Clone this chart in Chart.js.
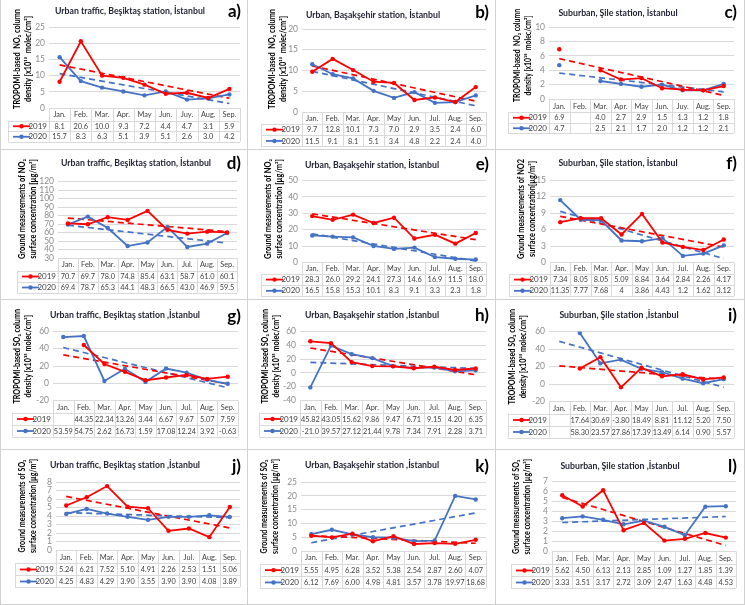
<!DOCTYPE html>
<html>
<head>
<meta charset="utf-8">
<script src="https://cdn.jsdelivr.net/npm/chart.js@4.4.1/dist/chart.umd.min.js"></script>
<style>
body { margin: 0; background: #fff; }
#wrap { position: relative; width: 745px; height: 605px; overflow: hidden; }
canvas { position: absolute; }
</style>
</head>
<body>
<div id="wrap"></div>
<script>
'use strict';

// month labels (two panels have the "Juy." typo)
var monthsJuy = ['Jan.', 'Feb.', 'Mar.', 'Apr.', 'May', 'Jun.', 'Juy.', 'Aug.', 'Sep.'];
var monthsJul = ['Jan.', 'Feb.', 'Mar.', 'Apr.', 'May', 'Jun.', 'Jul.', 'Aug.', 'Sep.'];

// y tick values per panel
var ticksA = [0, 5, 10, 15, 20, 25];
var ticksB = [0, 5, 10, 15, 20];
var ticksC = [0, 2, 4, 6, 8, 10];
var ticksD = [30, 40, 50, 60, 70, 80, 90, 100, 110, 120];
var ticksE = [0, 10, 20, 30, 40, 50];
var ticksF = [0, 3, 6, 9, 12, 15];
var ticksG = [-20, 0, 20, 40, 60];
var ticksH = [-40, -20, 0, 20, 40, 60];
var ticksI = [-20, 0, 20, 40, 60];
var ticksJ = [0, 1, 2, 3, 4, 5, 6, 7, 8];
var ticksK = [0, 5, 10, 15, 20, 25];
var ticksL = [0, 1, 2, 3, 4, 5, 6, 7];

// series values (2019 / 2020), null = no value
var a2019 = [8.1, 20.6, 10.0, 9.3, 7.2, 4.4, 4.7, 3.1, 5.9];
var a2020 = [15.7, 8.3, 6.3, 5.1, 3.9, 5.1, 2.6, 3.0, 4.2];
var b2019 = [9.7, 12.8, 10.1, 7.3, 7.0, 2.9, 3.5, 2.4, 6.0];
var b2020 = [11.5, 9.1, 8.1, 5.1, 3.4, 4.8, 2.2, 2.4, 4.0];
var c2019 = [6.9, null, 4.0, 2.7, 2.9, 1.5, 1.3, 1.2, 1.8];
var c2020 = [4.7, null, 2.5, 2.1, 1.7, 2.0, 1.2, 1.2, 2.1];
var d2019 = [70.7, 69.7, 78.0, 74.8, 85.4, 63.1, 58.7, 61.0, 60.1];
var d2020 = [69.4, 78.7, 65.3, 44.1, 48.3, 66.5, 43.0, 46.9, 59.5];
var e2019 = [28.3, 26.0, 29.2, 24.1, 27.3, 14.6, 16.9, 11.5, 18.0];
var e2020 = [16.5, 15.8, 15.3, 10.1, 8.3, 9.1, 3.3, 2.3, 1.8];
var f2019 = [7.34, 8.05, 8.05, 5.09, 8.84, 3.64, 2.84, 2.26, 4.17];
var f2020 = [11.35, 7.77, 7.68, 4, 3.86, 4.43, 1.2, 1.62, 3.12];
var g2019 = [null, 44.35, 22.34, 13.26, 3.44, 6.67, 9.67, 5.07, 7.59];
var g2020 = [53.59, 54.75, 2.62, 16.73, 1.59, 17.08, 12.24, 3.92, -0.63];
var h2019 = [45.82, 43.05, 15.62, 9.86, 9.47, 6.71, 9.15, 4.20, 6.35];
var h2020 = [-21.0, 39.57, 27.12, 21.44, 9.78, 7.34, 7.91, 2.28, 3.71];
var i2019 = [null, 17.64, 30.69, -3.80, 18.49, 8.81, 11.12, 5.20, 7.50];
var i2020 = [null, 58.30, 23.57, 27.86, 17.39, 13.49, 6.14, 0.90, 5.57];
var j2019 = [5.24, 6.21, 7.52, 5.10, 4.91, 2.26, 2.53, 1.51, 5.06];
var j2020 = [4.25, 4.83, 4.29, 3.90, 3.55, 3.90, 3.90, 4.08, 3.89];
var k2019 = [5.55, 4.95, 6.28, 3.52, 5.38, 2.54, 2.87, 2.60, 4.07];
var k2020 = [6.12, 7.69, 6.00, 4.98, 4.81, 3.57, 3.78, 19.97, 18.68];
var l2019 = [5.62, 4.50, 6.13, 2.13, 2.85, 1.09, 1.27, 1.85, 1.39];
var l2020 = [3.33, 3.51, 3.17, 2.72, 3.09, 2.47, 1.63, 4.48, 4.53];

// dashed trend lines, value at Jan and at Sep
var aTrend2019 = [13.3, 3.0],  aTrend2020 = [10.6, 1.4];
var bTrend2019 = [11.1, 2.6],  bTrend2020 = [9.8, 1.5];
var cTrend2019 = [5.6, 0.5],   cTrend2020 = [3.6, 1.0];
var dTrend2019 = [77.0, 61.1], dTrend2020 = [68.5, 47.5];
var eTrend2019 = [29.7, 13.9], eTrend2020 = [17.5, 0.9];
var fTrend2019 = [8.4, 2.8],   fTrend2020 = [9.3, 0.7];
var gTrend2019 = [32.9, -0.6], gTrend2020 = [41.4, -5.2];
var hTrend2019 = [36.1, -2.7], hTrend2020 = [15.3, 6.5];
var iTrend2019 = [20.7, 5.2],  iTrend2020 = [48.7, -3.8];
var jTrend2019 = [6.3, 2.6],   jTrend2020 = [4.4, 3.8];
var kTrend2019 = [5.6, 2.8],   kTrend2020 = [3.0, 13.8];
var lTrend2019 = [5.4, 0.6],   lTrend2020 = [2.9, 3.5];

var RED = '#ff0000';
var BLUE = '#4472c4';
var GRID = '#d9d9d9';
var FONT = 'Lato, "Liberation Sans", sans-serif';

var tropNO2 = ['TROPOMI-based  NO\u2082 column', 'density [x10\u00b9\u2075  molec/cm\u00b2]'];
var groundNO2 = ['Ground measurements of NO\u2082', 'surface concentration [\u00b5g/m\u00b3]'];
var groundNO2f = ['Ground measurements of NO2', 'surface concentration[\u00b5g/m\u00b3]'];
var tropSO2 = ['TROPOMI-based SO\u2082 column', 'density [x10\u00b9\u2075 molec/cm\u00b2]'];
var groundSO2 = ['Ground measurements of SO\u2082', 'surface concentration [\u00b5g/m\u00b3]'];

var panels = [
 {letter: 'a)', title: 'Urban traffic, Be\u015fikta\u015f station, \u0130stanbul', ytitle: tropNO2, ticks: ticksA, months: monthsJuy, s19: a2019, s20: a2020, t19: aTrend2019, t20: aTrend2020, dec: [1, 1],
  g: {top: 27, bottom: 108, left: 49, right: 240, hh: 12.5, rh: 10.5, yt: 17, tx: 130, ty: 11, ly: 12}},
 {letter: 'b)', title: 'Urban, Ba\u015fak\u015fehir station, \u0130stanbul', ytitle: tropNO2, ticks: ticksB, months: monthsJul, s19: b2019, s20: b2020, t19: bTrend2019, t20: bTrend2020, dec: [1, 1],
  g: {top: 29, bottom: 112, left: 54, right: 238, hh: 11.5, rh: 11.3, yt: 24, tx: 125, ty: 15, ly: 13}},
 {letter: 'c)', title: 'Suburban, \u015eile station, \u0130stanbul', ytitle: tropNO2, ticks: ticksC, months: monthsJuy, s19: c2019, s20: c2020, t19: cTrend2019, t20: cTrend2020, dec: [1, 1],
  g: {top: 27, bottom: 99, left: 53, right: 238, hh: 13, rh: 10.5, yt: 21, tx: 122, ty: 13, ly: 13}},
 {letter: 'd)', title: 'Urban traffic, Be\u015fikta\u015f station, \u0130stanbul', ytitle: groundNO2, ticks: ticksD, months: monthsJul, s19: d2019, s20: d2020, t19: dTrend2019, t20: dTrend2020, dec: [1, 1],
  g: {top: 31.5, bottom: 108, left: 58, right: 237, hh: 12.5, rh: 11, yt: 22, tx: 136, ty: 13, ly: 14}},
 {letter: 'e)', title: 'Urban, Ba\u015fak\u015fehir station, \u0130stanbul', ytitle: groundNO2, ticks: ticksE, months: monthsJul, s19: e2019, s20: e2020, t19: eTrend2019, t20: eTrend2020, dec: [1, 1],
  g: {top: 30.5, bottom: 112.5, left: 54, right: 238, hh: 11, rh: 11.2, yt: 20, tx: 124, ty: 15, ly: 15}},
 {letter: 'f)', title: 'Suburban, \u015eile station, \u0130stanbul', ytitle: groundNO2f, ticks: ticksF, months: monthsJul, s19: f2019, s20: f2020, t19: fTrend2019, t20: fTrend2020, dec: [2, null],
  g: {top: 30, bottom: 112.5, left: 54, right: 238, hh: 11, rh: 11.2, yt: 25, tx: 122, ty: 13, ly: 14}},
 {letter: 'g)', title: 'Urban traffic, Be\u015fikta\u015f station ,\u0130stanbul', ytitle: tropSO2, ticks: ticksG, months: monthsJul, s19: g2019, s20: g2020, t19: gTrend2019, t20: gTrend2020, dec: [2, 2],
  g: {top: 31.5, bottom: 100.5, left: 53, right: 238, hh: 12, rh: 12, yt: 17, tx: 125, ty: 15, ly: 17}},
 {letter: 'h)', title: 'Urban, Ba\u015fak\u015fehir station ,\u0130stanbul', ytitle: tropSO2, ticks: ticksH, months: monthsJul, s19: h2019, s20: h2020, t19: hTrend2019, t20: hTrend2020, dec: [2, [1, 2, 2, 2, 2, 2, 2, 2, 2]],
  g: {top: 31.5, bottom: 100.5, left: 52, right: 238, hh: 12, rh: 12, yt: 17, tx: 124, ty: 15, ly: 16}},
 {letter: 'i)', title: 'Suburban, \u015eile station ,\u0130stanbul', ytitle: tropSO2, ticks: ticksI, months: monthsJul, s19: i2019, s20: i2020, t19: iTrend2019, t20: iTrend2020, dec: [2, 2],
  g: {top: 31.5, bottom: 101.5, left: 53, right: 238, hh: 12, rh: 12, yt: 16, tx: 123, ty: 15, ly: 16}},
 {letter: 'j)', title: 'Urban traffic, Be\u015fikta\u015f station ,\u0130stanbul', ytitle: groundSO2, ticks: ticksJ, months: monthsJul, s19: j2019, s20: j2020, t19: jTrend2019, t20: jTrend2020, dec: [2, 2],
  g: {top: 32, bottom: 100, left: 56, right: 240, hh: 13, rh: 12, yt: 22, tx: 125, ty: 15, ly: 17}},
 {letter: 'k)', title: 'Urban, Ba\u015fak\u015fehir station ,\u0130stanbul', ytitle: groundSO2, ticks: ticksK, months: monthsJul, s19: k2019, s20: k2020, t19: kTrend2019, t20: kTrend2020, dec: [2, 2],
  g: {top: 32, bottom: 101, left: 53, right: 238, hh: 12.5, rh: 12.3, yt: 16, tx: 124, ty: 15, ly: 17}},
 {letter: 'l)', title: 'Suburban, \u015eile station ,\u0130stanbul', ytitle: groundSO2, ticks: ticksL, months: monthsJul, s19: l2019, s20: l2020, t19: lTrend2019, t20: lTrend2020, dec: [2, 2],
  g: {top: 31.5, bottom: 101.5, left: 56, right: 240, hh: 12.5, rh: 12, yt: 20, tx: 124, ty: 16, ly: 17}}
];

var colX = [0, 248, 496], colW = [248, 248, 249];
var rowY = [0, 150, 300, 450], rowH = [150, 150, 150, 155];

function fmt(v, d, i) {
 if (v === null) return '';
 var n = Array.isArray(d) ? d[i] : d;
 if (n === null) return String(v);
 return v.toFixed(n);
}

function trendData(t) {
 var out = [];
 for (var i = 0; i < 9; i++) out.push(null);
 out[0] = t[0];
 out[8] = t[1];
 return out;
}

function hline(ctx, x1, x2, y) {
 ctx.beginPath(); ctx.moveTo(x1, Math.round(y) + 0.5); ctx.lineTo(x2, Math.round(y) + 0.5); ctx.stroke();
}
function vline(ctx, x, y1, y2) {
 ctx.beginPath(); ctx.moveTo(Math.round(x) + 0.5, y1); ctx.lineTo(Math.round(x) + 0.5, y2); ctx.stroke();
}

// the figure uses a narrow font; text is drawn a bit condensed to get its widths
var TITLE_FONT = 'bold 9.5px ' + FONT;
var titleSquash = 1;
(function () {
 var c = document.createElement('canvas').getContext('2d');
 c.font = TITLE_FONT;
 titleSquash = Math.min(1, 150 / c.measureText(panels[0].title).width);
})();

function squashText(ctx, text, x, y, sx) {
 ctx.save();
 ctx.translate(x, y);
 ctx.scale(sx, 1);
 ctx.fillText(text, 0, 0);
 ctx.restore();
}

var panelPlugin = {
 id: 'panelDecor',
 afterDraw: function (chart) {
  var p = chart.options.plugins.panelDecor.p;
  var g = p.g;
  var ctx = chart.ctx;
  var W = chart.width, H = chart.height;
  var L = chart.chartArea.left, R = chart.chartArea.right, B = chart.chartArea.bottom;
  var bw = (R - L) / 9;
  var y1 = B + g.hh, y2 = y1 + g.rh, y3 = y2 + g.rh;
  var legL = L - 41;
  ctx.save();

  // table grid
  ctx.strokeStyle = GRID;
  ctx.lineWidth = 1;
  hline(ctx, legL, R, y1);
  hline(ctx, legL, R, y2);
  hline(ctx, legL, R, y3);
  vline(ctx, legL, y1, y3);
  for (var i = 0; i <= 9; i++) vline(ctx, L + i * bw, B, y3);

  // table texts
  ctx.fillStyle = '#404040';
  ctx.font = '8px ' + FONT;
  ctx.textAlign = 'center';
  ctx.textBaseline = 'middle';
  for (i = 0; i < 9; i++) {
   var cx = L + (i + 0.5) * bw;
   squashText(ctx, p.months[i], cx, B + g.hh / 2 + 0.5, 0.92);
   squashText(ctx, fmt(p.s19[i], p.dec[0], i), cx, y1 + g.rh / 2 + 0.5, 0.92);
   squashText(ctx, fmt(p.s20[i], p.dec[1], i), cx, y2 + g.rh / 2 + 0.5, 0.92);
  }

  // legend keys
  ctx.font = '8px ' + FONT;
  [[RED, '2019', y1], [BLUE, '2020', y2]].forEach(function (k) {
   var cy = k[2] + g.rh / 2 + 0.5;
   ctx.strokeStyle = k[0];
   ctx.fillStyle = k[0];
   ctx.lineWidth = 1.8;
   ctx.beginPath(); ctx.moveTo(L - 36, cy); ctx.lineTo(L - 19, cy); ctx.stroke();
   ctx.beginPath(); ctx.arc(L - 27.5, cy, 2.2, 0, Math.PI * 2); ctx.fill();
   ctx.fillStyle = '#404040';
   ctx.textAlign = 'right';
   ctx.fillText(k[1], L - 2, cy);
  });

  // title and panel letter
  ctx.fillStyle = '#1f2030';
  ctx.textAlign = 'center';
  ctx.font = TITLE_FONT;
  squashText(ctx, p.title, g.tx, g.ty, titleSquash);
  ctx.fillStyle = '#000';
  ctx.textAlign = 'right';
  ctx.font = 'bold 17px ' + FONT;
  ctx.fillText(p.letter, 241, g.ly);

  // rotated y axis title, condensed to run from near the top down to the plot bottom
  var span = Math.min(100, B - 6);
  ctx.font = 'bold 8.5px ' + FONT;
  var longest = Math.max(ctx.measureText(p.ytitle[0]).width, ctx.measureText(p.ytitle[1]).width);
  var sx = Math.min(1, span / longest);
  ctx.save();
  ctx.translate(g.yt, 9 + span / 2);
  ctx.rotate(-Math.PI / 2);
  ctx.scale(sx, 1);
  ctx.fillStyle = '#000';
  ctx.textAlign = 'center';
  ctx.fillText(p.ytitle[0], 0, 0);
  ctx.fillText(p.ytitle[1], 0, 11.5);
  ctx.restore();

  // panel frame
  ctx.strokeStyle = '#d0d0d0';
  ctx.lineWidth = 1;
  vline(ctx, W - 1, 0, H);
  hline(ctx, 0, W, H - 1);
  if (p.col === 0) vline(ctx, 0, 0, H);
  ctx.restore();
 }
};

var wrap = document.getElementById('wrap');

panels.forEach(function (p, n) {
 var col = n % 3, row = Math.floor(n / 3);
 p.col = col;
 var w = colW[col], h = rowH[row];
 var cv = document.createElement('canvas');
 cv.width = w; cv.height = h;
 cv.style.left = colX[col] + 'px';
 cv.style.top = rowY[row] + 'px';
 wrap.appendChild(cv);
 var ticks = p.ticks;

 new Chart(cv, {
  type: 'line',
  data: {
   labels: p.months,
   datasets: [
    {label: '2019', data: p.s19, borderColor: RED, backgroundColor: RED, borderWidth: 1.8, pointRadius: 2.2, pointBorderWidth: 0, spanGaps: false},
    {label: '2020', data: p.s20, borderColor: BLUE, backgroundColor: BLUE, borderWidth: 1.8, pointRadius: 2.2, pointBorderWidth: 0, spanGaps: false},
    {label: 'trend 2019', data: trendData(p.t19), borderColor: RED, borderWidth: 1.7, borderDash: [6, 4], pointRadius: 0, spanGaps: true},
    {label: 'trend 2020', data: trendData(p.t20), borderColor: BLUE, borderWidth: 1.7, borderDash: [6, 4], pointRadius: 0, spanGaps: true}
   ]
  },
  options: {
   responsive: false,
   animation: false,
   devicePixelRatio: 1,
   layout: {padding: {left: 0, right: w - p.g.right, top: p.g.top, bottom: h - p.g.bottom}},
   plugins: {
    legend: {display: false},
    tooltip: {enabled: false},
    panelDecor: {p: p}
   },
   scales: {
    x: {display: false, offset: true},
    y: {
     min: ticks[0],
     max: ticks[ticks.length - 1],
     afterFit: function (s) { s.width = p.g.left; },
     ticks: {stepSize: ticks[1] - ticks[0], autoSkip: false, color: '#8c8c8c', font: {family: FONT, size: 8.5}, padding: 4},
     grid: {color: GRID, drawTicks: false},
     border: {display: false}
    }
   }
  },
  plugins: [panelPlugin]
 });
});
</script>
</body>
</html>
